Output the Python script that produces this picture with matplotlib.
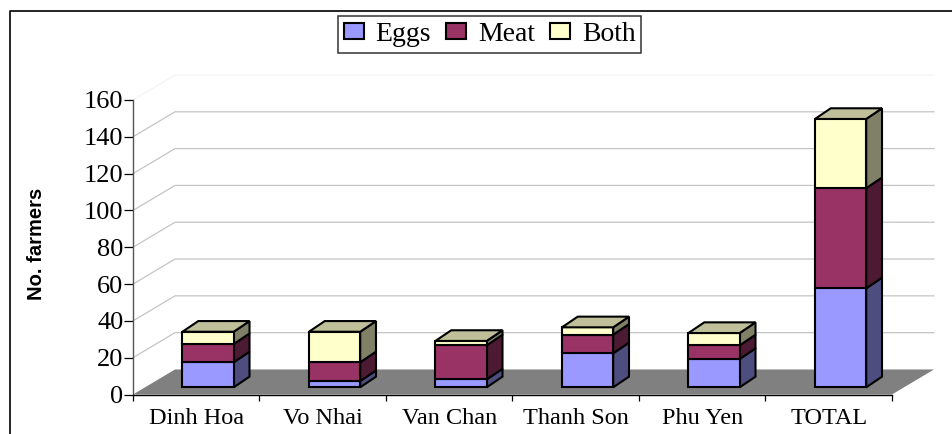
#!/usr/bin/env python3

import numpy as np
import matplotlib
matplotlib.use('Agg')
import matplotlib.pyplot as plt
from matplotlib.lines import Line2D
from matplotlib.patches import Patch, Polygon

Spec_figsize = (9.53, 4.34)
Spec_dpi = 100

# values
districts = ['Dinh Hoa', 'Vo Nhai', 'Van Chan', 'Thanh Son', 'Phu Yen', 'TOTAL']
eggs = [13.6, 3.4, 4.3, 18.5, 15.4, 53.8]
meat = [9.9, 10.2, 18.5, 10.1, 7.4, 54.4]
both = [6.7, 16.6, 2.4, 4.0, 6.7, 37.6]
series_names = ['Eggs', 'Meat', 'Both']
y_ticks = [0, 20, 40, 60, 80, 100, 120, 140, 160]

front_colors = ['#9999FF', '#993366', '#FFFFCC']
side_colors = ['#4D4D80', '#4D1A33', '#808066']
top_color = '#BFBF99'

# oblique projection, in data units
wall_dx = 0.332
wall_dy = 13.6
bar_width = 0.405
bar_dx = 0.125
bar_dy = 5.8

plt.rcParams['font.family'] = ['Liberation Serif', 'DejaVu Serif']

fig = plt.figure(figsize=Spec_figsize, dpi=Spec_dpi)
W, H = 953.0, 434.0

ax = fig.add_axes([133 / W, (H - 394.5) / H, 759 / W, 294.5 / H])
ax.set_xlim(0, len(districts))
ax.set_ylim(0, 160)
ax.patch.set_visible(False)

for s in ['top', 'right']:
    ax.spines[s].set_visible(False)
ax.spines['left'].set_color('#555555')
ax.spines['left'].set_linewidth(1.0)
ax.spines['bottom'].set_color('black')
ax.spines['bottom'].set_linewidth(1.0)
ax.spines['left'].set_zorder(6)
ax.spines['bottom'].set_zorder(6)

ax.set_yticks(y_ticks)
ax.set_xticks(range(len(districts) + 1))
ax.set_xticklabels([])
ax.tick_params(axis='y', length=6.5, width=0.9, labelsize=19, pad=0.5)
ax.tick_params(axis='x', length=4, width=0.9)

for i, name in enumerate(districts):
    ax.annotate(name, xy=(i + 0.5, 0), xycoords='data', xytext=(0, -10),
                textcoords='offset points', ha='center', va='top', fontsize=17.5)

# walls
x_max = len(districts)
for v in y_ticks[1:]:
    grid_color = '#F4F4F4' if v == 160 else '#C4C4C4'
    ax.plot([0, wall_dx, x_max + wall_dx], [v, v + wall_dy, v + wall_dy],
            color=grid_color, lw=0.9, clip_on=False, zorder=1)

# floor
ax.add_patch(Polygon([(0, 0), (x_max, 0), (x_max + wall_dx, wall_dy), (wall_dx, wall_dy)],
                     closed=True, facecolor='#808080', edgecolor='none',
                     clip_on=False, zorder=2))

# stacked boxes
x0_off = (1 - bar_width) / 2 + (wall_dx - bar_dx) / 2 - 0.01
y0 = (wall_dy - bar_dy) / 2
edge = dict(edgecolor='black', linewidth=1.5, joinstyle='miter', clip_on=False, zorder=3)

for i in range(len(districts)):
    xl = i + x0_off
    xr = xl + bar_width
    base = y0
    for values, fc, sc in zip([eggs, meat, both], front_colors, side_colors):
        top = base + values[i]
        ax.add_patch(Polygon([(xr, base), (xr + bar_dx, base + bar_dy),
                              (xr + bar_dx, top + bar_dy), (xr, top)],
                             closed=True, facecolor=sc, **edge))
        ax.add_patch(Polygon([(xl, base), (xr, base), (xr, top), (xl, top)],
                             closed=True, facecolor=fc, **edge))
        base = top
    ax.add_patch(Polygon([(xl, base), (xr, base), (xr + bar_dx, base + bar_dy),
                          (xl + bar_dx, base + bar_dy)],
                         closed=True, facecolor=top_color, **edge))

fig.text(36 / W, 1 - 244 / H, 'No. farmers', family='Liberation Sans', weight='bold',
         fontsize=14.5, rotation=90, ha='center', va='center')

handles = [Patch(facecolor=c, edgecolor='black', linewidth=1.5) for c in front_colors]
leg = fig.legend(handles, series_names, ncol=3, loc='upper center',
                 bbox_to_anchor=(489.5 / W, 1 - 15.7 / H), fontsize=20,
                 fancybox=False, framealpha=1, edgecolor='#333333',
                 handlelength=0.72, handleheight=0.5, handletextpad=0.42,
                 columnspacing=0.55, borderpad=0.22, borderaxespad=0)
leg.get_frame().set_linewidth(1.1)

# outer frame, runs off the right and bottom of the image
fig.add_artist(Line2D([10 / W, 10 / W, 1], [0, 1 - 11 / H, 1 - 11 / H],
                      color='black', lw=1.2, transform=fig.transFigure))

fig.savefig('out.png', dpi=Spec_dpi)
